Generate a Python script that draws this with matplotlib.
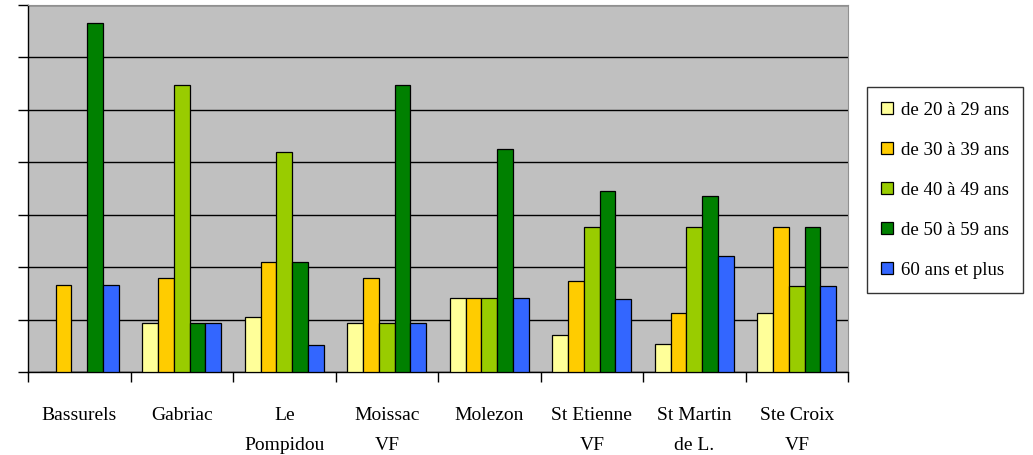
import numpy as np
import matplotlib
matplotlib.use("agg")
import matplotlib.pyplot as plt

communes = ["Bassurels", "Gabriac", "Le\nPompidou", "Moissac\nVF", "Molezon",
            "St Etienne\nVF", "St Martin\nde L.", "Ste Croix\nVF"]
series = ["de 20 à 29 ans", "de 30 à 39 ans", "de 40 à 49 ans",
          "de 50 à 59 ans", "60 ans et plus"]

age_20_29 = [0.0, 4.7, 5.2, 4.7, 7.1, 3.5, 2.7, 5.6]
age_30_39 = [8.3, 9.0, 10.5, 9.0, 7.1, 8.7, 5.6, 13.8]
age_40_49 = [0.0, 27.4, 21.0, 4.7, 7.1, 13.8, 13.8, 8.2]
age_50_59 = [33.3, 4.7, 10.5, 27.4, 21.3, 17.3, 16.8, 13.8]
age_60_plus = [8.3, 4.7, 2.6, 4.7, 7.1, 7.0, 11.1, 8.2]

colors = ["#FFFF99", "#FFCC00", "#99CC00", "#008000", "#3366FF"]

plt.rcParams["font.family"] = ["Liberation Serif", "DejaVu Serif"]

fig = plt.figure(figsize=(10.33, 4.55), dpi=100)
ax = fig.add_axes([0.0271, 0.1824, 0.7939, 0.8066])
ax.set_facecolor("#C0C0C0")

data = [age_20_29, age_30_39, age_40_49, age_50_59, age_60_plus]
x = np.arange(len(communes))
w = 1 / 6.5
for i, vals in enumerate(data):
    ax.bar(x - 0.5 + 0.75 * w + (i + 0.5) * w, vals, width=w, color=colors[i],
           edgecolor="black", linewidth=0.9, label=series[i], zorder=3)

ax.set_xlim(-0.5, len(communes) - 0.5)
ax.set_ylim(0, 35)
ax.set_yticks(np.arange(0, 36, 5))
ax.set_yticklabels([])
ax.yaxis.grid(True, color="black", linewidth=1.0, zorder=1)
ax.set_axisbelow(True)

# ticks between groups, labels in the middle
ax.set_xticks(np.append(x - 0.5, len(communes) - 0.5))
ax.set_xticklabels([])
ax.set_xticks(x, minor=True)
ax.set_xticklabels(communes, minor=True, fontsize=14, linespacing=2.05)
ax.tick_params(axis="x", which="minor", length=0, pad=25)
ax.tick_params(axis="x", which="major", length=7, width=1.0, direction="out")
ax.tick_params(axis="y", length=7, width=1.0, direction="out")

for s in ["top", "right"]:
    ax.spines[s].set_color("#909090")
for s in ["left", "bottom"]:
    ax.spines[s].set_linewidth(1.0)

leg = fig.legend(loc="center left", bbox_to_anchor=(0.839, 0.582),
                 fontsize=13.6, frameon=True, fancybox=False, edgecolor="black",
                 handlelength=0.65, handleheight=0.65, labelspacing=1.22,
                 handletextpad=0.4, borderpad=0.75, borderaxespad=0)
leg.get_frame().set_linewidth(1.0)

plt.savefig("out.png", dpi=100)
